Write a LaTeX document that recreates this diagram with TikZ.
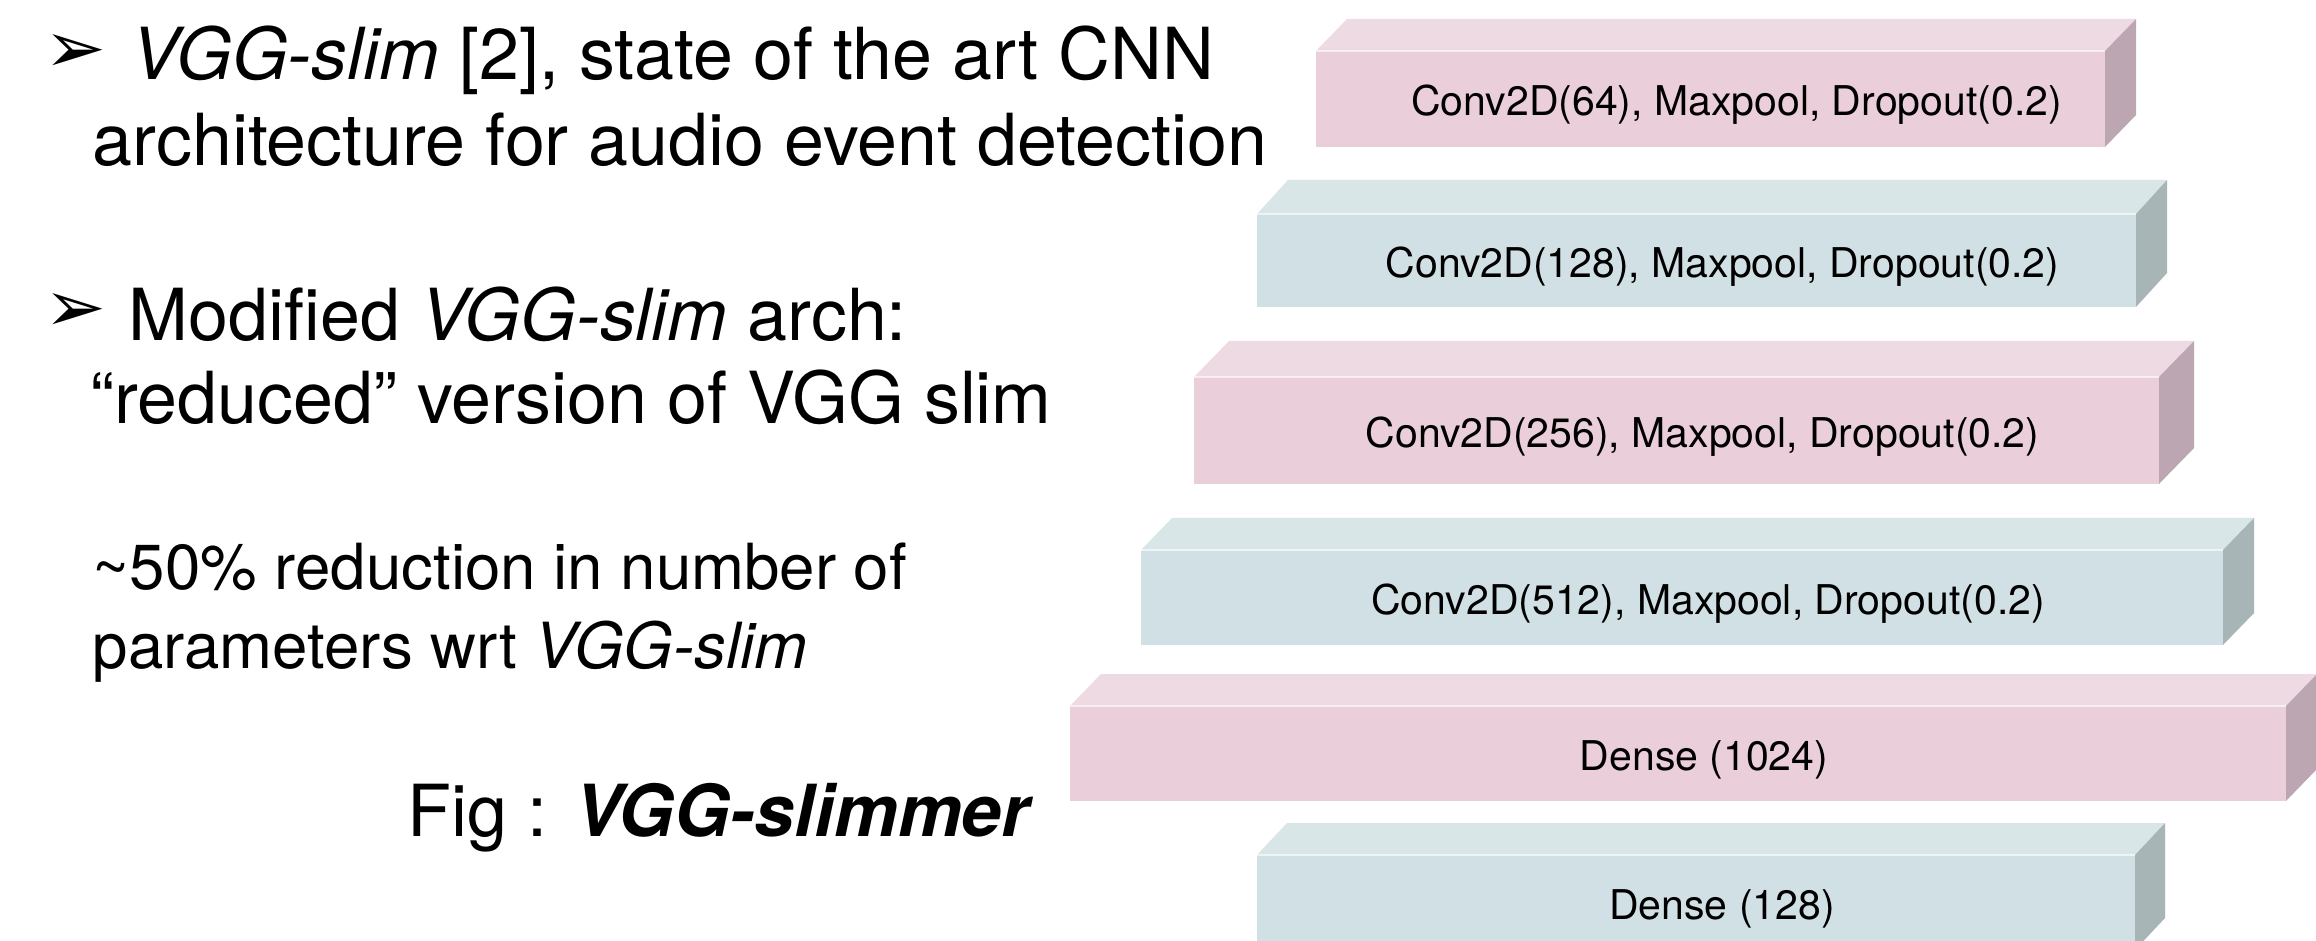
\documentclass[tikz,border=0pt]{standalone}
\usepackage{graphicx}
\usepackage{fontspec}
\setmainfont{TeX Gyre Heros}
\newfontfamily\symfont{DejaVu Sans}
\usetikzlibrary{calc}
\definecolor{pinkfront}{HTML}{EACFDA}
\definecolor{pinktop}{HTML}{EEDAE2}
\definecolor{pinkside}{HTML}{BBA6B1}
\definecolor{bluefront}{HTML}{D1E0E4}
\definecolor{bluetop}{HTML}{D9E6E8}
\definecolor{blueside}{HTML}{A7B5B6}
\tikzset{
  face/.style={inner sep=0pt, outer sep=0pt, draw=none},
  layertext/.style={inner sep=0pt, font=\fontsize{10.25pt}{12pt}\selectfont},
  bigtext/.style={inner sep=0pt, anchor=base west, font=\fontsize{17.95pt}{21pt}\selectfont},
  smalltext/.style={inner sep=0pt, anchor=base west, font=\fontsize{15.9pt}{19pt}\selectfont},
  bulletmark/.style={inner sep=0pt, anchor=center},
}
\newcommand\arrowbullet{\resizebox*{15.5pt}{9.5pt}{\symfont ➢}}
% name, x1, y1, x2, y2, dx, dy, colour prefix, text
\newcommand\layerbox[9]{%
  \node[face, fill=#8front, minimum width={(#4-#2)*0.25pt}, minimum height={(#5-#3)*0.25pt}]
    (#1) at ({(#2+#4)/2},{(#3+#5)/2}) {};
  \fill[#8top] (#1.north west) -- ++(#6,-#7) -- ++({#4-#2},0) -- (#1.north east) -- cycle;
  \fill[#8side] (#1.south east) -- (#1.north east) -- ++(#6,-#7) -- ++(0,{#5-#3}) -- cycle;
  \draw[white, line width=0.4pt, opacity=0.6] (#1.north west) -- (#1.north east);
  \node[layertext] (#1l) at ({(#2+#4)/2+26},{(#3+#5)/2+6}) {#9};
}
\begin{document}
\begin{tikzpicture}[x=0.25pt,y=-0.25pt]
\useasboundingbox (0,0) rectangle (2316,941);
\fill[white] (0,0) rectangle (2316,941);
\clip (0,0) rectangle (2316,941);

% layer stack
\layerbox{c1}{1316}{51}{2105}{147}{31}{32}{pink}{Conv2D(64), Maxpool, Dropout(0.2)}
\layerbox{c2}{1257}{214}{2136}{307}{31}{34}{blue}{Conv2D(128), Maxpool, Dropout(0.2)}
\layerbox{c3}{1194}{377}{2159}{484}{35}{36}{pink}{Conv2D(256), Maxpool, Dropout(0.2)}
\layerbox{c4}{1141}{550}{2223}{645}{31}{32}{blue}{Conv2D(512), Maxpool, Dropout(0.2)}
\layerbox{d1}{1070}{706}{2286}{801}{31}{32}{pink}{Dense (1024)}
\layerbox{d2}{1257}{855}{2135}{950}{30}{32}{blue}{Dense (128)}

% left text
\node[bulletmark] (m1) at (75,54) {\arrowbullet};
\node[bigtext] (l1) at (131,80) {\textit{VGG-slim} [2], state of the art CNN};
\node[bigtext] (l2) at (92,166) {architecture for audio event detection};
\node[bulletmark] (m2) at (75,313) {\arrowbullet};
\node[bigtext] (l3) at (128,340) {Modified \textit{VGG-slim} arch:};
\node[bigtext] (l4) at (90,424) {“reduced” version of VGG slim};
\node[smalltext] (l5) at (92,589) {\textasciitilde50\% reduction in number of};
\node[smalltext] (l6) at (92,668) {parameters wrt \textit{VGG-slim}};
\node[bigtext] (fig) at (407,836) {Fig : \textbf{\textit{VGG-slimmer}}};
\end{tikzpicture}
\end{document}
